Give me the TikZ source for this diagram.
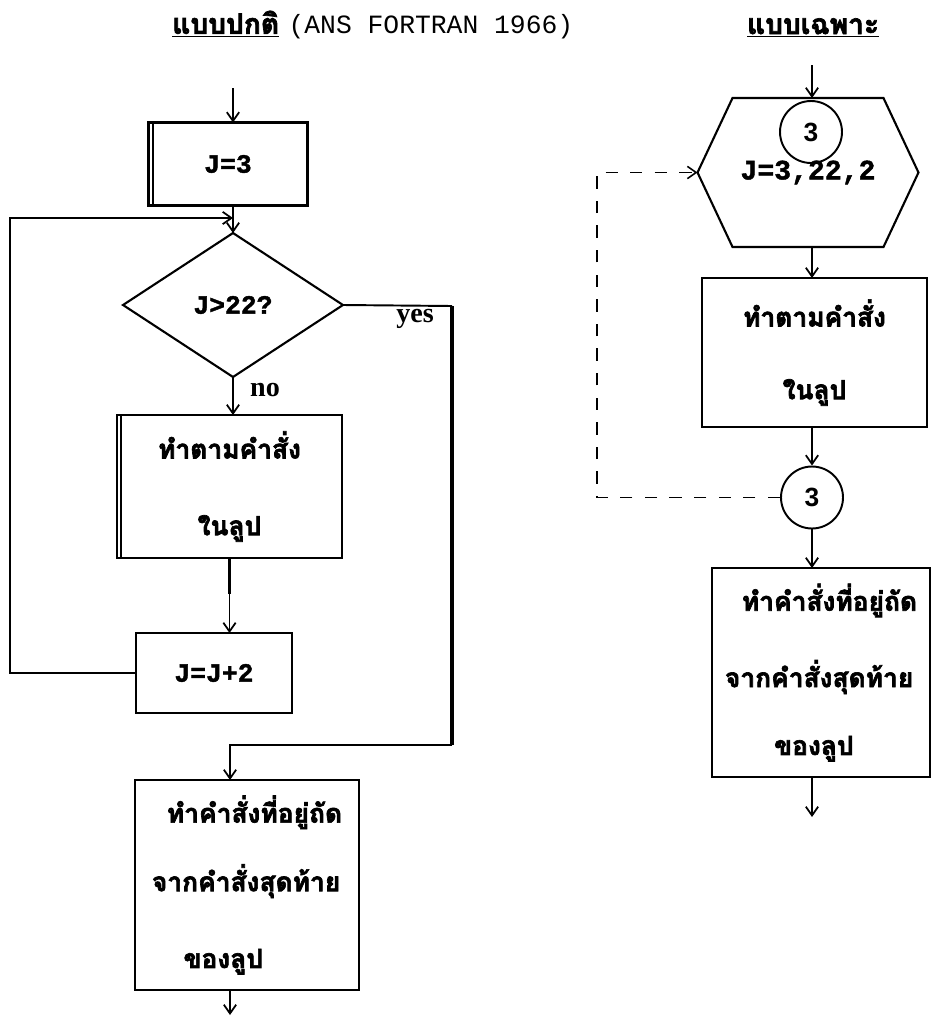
\documentclass[tikz,border=0pt]{standalone}
\usepackage{fontspec}
\setmainfont{Liberation Serif}
\newfontfamily\thaifont[Script=Thai,BoldFeatures={FakeBold=2.5}]{Loma}
\newfontfamily\codefont[BoldFeatures={FakeBold=1.5}]{Liberation Mono}
\newfontfamily\numfont{Liberation Sans}
\usetikzlibrary{arrows.meta,shapes.geometric}
\tikzset{
  flow/.style={line width=1pt,-{Straight Barb[length=5pt,width=7pt]}},
  procbox/.style={draw,line width=1.2pt,rectangle,inner sep=0pt,outer sep=0pt},
  hexframe/.style={rectangle,inner sep=0pt,outer sep=0pt},
  decide/.style={draw,line width=1.2pt,diamond,inner sep=0pt,outer sep=0pt},
  conn/.style={draw,line width=1.1pt,circle,minimum size=1.24cm,inner sep=0pt,font=\numfont\bfseries\fontsize{15}{18}\selectfont},
  thtxt/.style={font=\thaifont\bfseries\fontsize{15}{18}\selectfont},
  codetxt/.style={font=\codefont\bfseries\fontsize{15}{18}\selectfont},
  lbl/.style={font=\bfseries\fontsize{16}{18}\selectfont},
  loopback/.style={line width=0.9pt,dash pattern=on 7pt off 7pt},
  title/.style={font=\thaifont\bfseries\fontsize{16}{18}\selectfont}
}
\begin{document}
\begin{tikzpicture}[x=0.02cm,y=-0.02cm]
\useasboundingbox (0,0) rectangle (930,1021);
% titles
\node[title,anchor=west] (ttl1) at (166,25) {\underline{แบบปกติ} {\codefont\mdseries\fontsize{15}{18}\selectfont (ANS FORTRAN 1966)}};
\node[title] (ttl2) at (813,28) {\underline{แบบเฉพาะ}};

% left: standard form
\coordinate (top1) at (233,88);
\node[procbox,codetxt,minimum width=3.18cm,minimum height=1.66cm] (init) at (228,164) {J=3};
\draw[line width=1.2pt] ([xshift=2.5pt]init.north west) -- ([xshift=2.5pt]init.south west);
\node[decide,codetxt,minimum width=4.4cm,minimum height=2.88cm] (test) at (233,305) {\raisebox{-5pt}{J>22?}};
\node[procbox,thtxt,align=center,minimum width=4.5cm,minimum height=2.86cm] (body) at (229.5,486.5) {ทำตามคำสั่ง\\[25.7pt]ในลูป};
\draw[line width=1.2pt] ([xshift=2.5pt]body.north west) -- ([xshift=2.5pt]body.south west);
\node[procbox,codetxt,minimum width=3.12cm,minimum height=1.6cm] (incr) at (214,673) {J=J+2};
\node[procbox,thtxt,align=left,minimum width=4.48cm,minimum height=4.2cm] (after) at (247,885)
  {\hspace*{8.5pt}ทำคำสั่งที่อยู่ถัด\\[18.9pt]จากคำสั่งสุดท้าย\\[25.7pt]\hspace*{18pt}ของลูป};
\node[lbl] (yes) at (415,319) {yes};
\node[lbl] (no) at (265,390) {no};
\coordinate (junc) at (233,218);
\coordinate (lpl) at (10,218);
\coordinate (yesr) at (452,306);
\coordinate (yesd) at (452,745);
\coordinate (yesin) at (230,745);
\coordinate (end1) at (230,1015);

\draw[flow] (top1) -- (top1 |- init.north);
\draw[flow] (init.south -| test.north) -- (test.north);
\draw[flow] (test.south) -- (test.south |- body.north);
\draw[line width=2pt] (body.south) -- ++(0,36);
\draw[flow] (body.south) -- (body.south |- incr.north);
\draw[flow] (incr.west) -| (lpl) -- (junc);
\draw[line width=1.1pt] (test.east) -- (yesr);
\draw[line width=2.5pt] (yesr) -- (yesd);
\draw[flow] (yesd) -- (yesin) -- (yesin |- after.north);
\draw[flow] (after.south -| end1) -- (end1);

% right: special form
\coordinate (top2) at (812,65);
\node[hexframe,codetxt,minimum width=4.42cm,minimum height=2.98cm] (loop) at (808,172.5) {\raisebox{-5pt}{\fontsize{16}{18}\selectfont J=3,22,2}};
\draw[line width=1.2pt] ([xshift=0.7cm]loop.north west) -- ([xshift=-0.7cm]loop.north east) -- (loop.east)
  -- ([xshift=-0.7cm]loop.south east) -- ([xshift=0.7cm]loop.south west) -- (loop.west) -- cycle;
\node[conn] (c1) at (811,132) {3};
\node[procbox,thtxt,align=center,minimum width=4.5cm,minimum height=2.98cm] (body2) at (814.5,352.5) {ทำตามคำสั่ง\\[23.4pt]ในลูป};
\node[conn] (c2) at (812,497.5) {3};
\node[procbox,thtxt,align=left,minimum width=4.36cm,minimum height=4.18cm] (after2) at (821,672.5)
  {\hspace*{9.6pt}ทำคำสั่งที่อยู่ถัด\\[23.4pt]จากคำสั่งสุดท้าย\\[20.6pt]\hspace*{28pt}ของลูป};
\coordinate (dtop) at (597,172.5);
\coordinate (end2) at (812,817);

\draw[flow] (top2) -- (top2 |- loop.north);
\draw[flow] (loop.south -| c2) -- (body2.north -| c2);
\draw[flow] (body2.south -| c2) -- (c2.north);
\draw[flow] (c2.south) -- (after2.north -| c2);
\draw[flow] (after2.south -| end2) -- (end2);
\draw[loopback,-{Straight Barb[length=5pt,width=7pt]}] (c2.west) -| (dtop) -- (loop.west);
\end{tikzpicture}
\end{document}
